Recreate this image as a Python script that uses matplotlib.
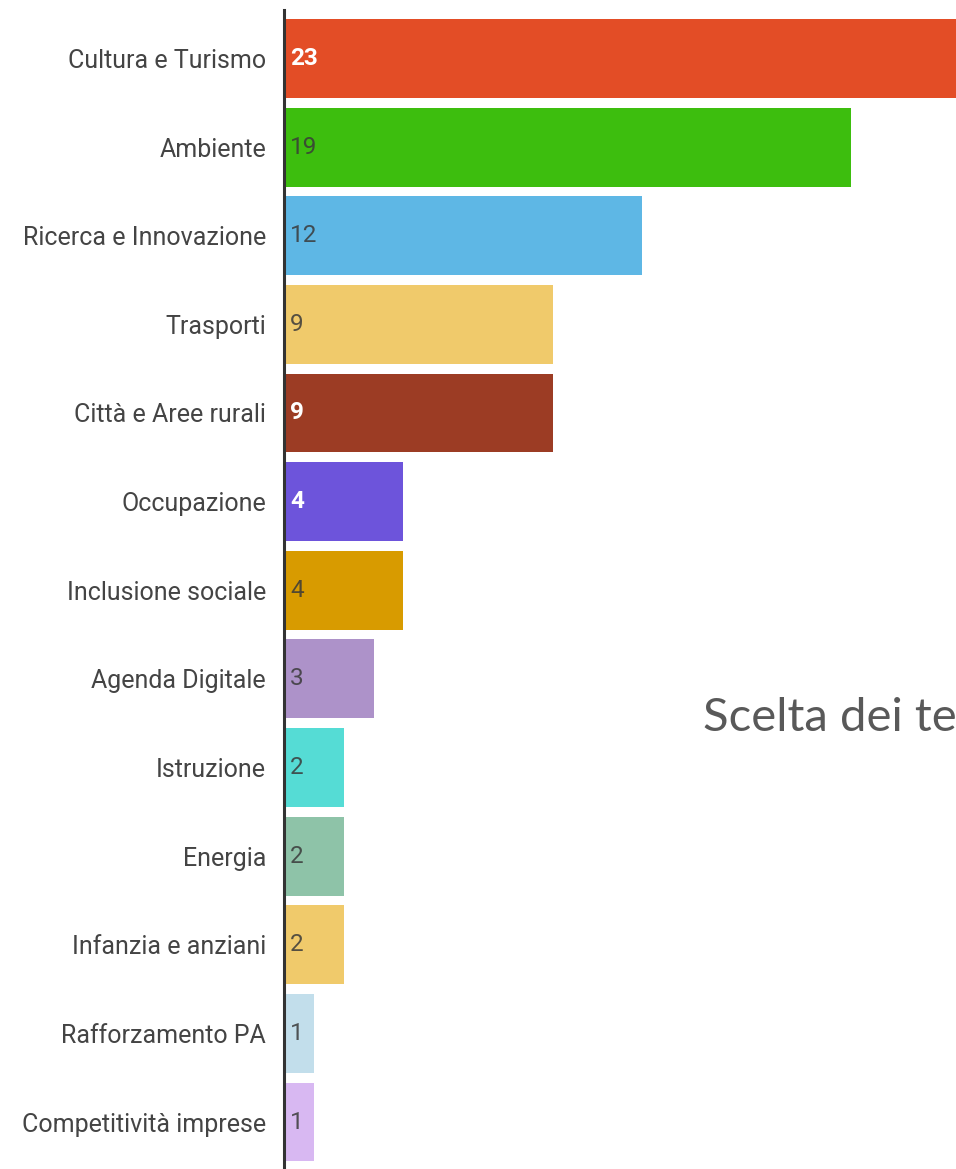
import matplotlib
matplotlib.use("Agg")
from matplotlib import pyplot as plt

# data
categories = ["Cultura e Turismo", "Ambiente", "Ricerca e Innovazione", "Trasporti",
              "Città e Aree rurali", "Occupazione", "Inclusione sociale", "Agenda Digitale",
              "Istruzione", "Energia", "Infanzia e anziani", "Rafforzamento PA",
              "Competitività imprese"]
values = [23, 19, 12, 9, 9, 4, 4, 3, 2, 2, 2, 1, 1]
colors = ["#E34D26", "#3DBE0E", "#5EB7E5", "#F0CA6B", "#9C3C24", "#6D54DB", "#D89B00",
          "#AD92C9", "#55DCD5", "#8EC3A8", "#F0CA6B", "#C2DEEB", "#D8B8F2"]
white_labels = [True, False, False, False, True, True, False, False, False, False, False,
                False, False]

W, H = 956, 1169
fig = plt.figure(figsize=(W / 100, H / 100), dpi=100)
ax = fig.add_axes([284 / W, 0, 1 - 284 / W, 1 - 10 / H])

ypos = list(range(len(categories)))
ax.barh(ypos, values, height=0.89, color=colors, zorder=2)

for y, v, w in zip(ypos, values, white_labels):
    if w:
        ax.text(0.2, y, str(v), va="center", ha="left", fontsize=17.5, fontweight="bold",
                color="white", family="Roboto", zorder=3)
    else:
        ax.text(0.2, y, str(v), va="center", ha="left", fontsize=17.5,
                color="#3a3a3a", alpha=0.85, family="Roboto", zorder=3)

ax.set_xlim(0, (W - 284) / 29.84)
ax.set_ylim(12.53, -0.547)
ax.set_yticks(ypos)
ax.set_yticklabels(categories, fontsize=18, color="#444444", family="Roboto")
ax.tick_params(axis="y", length=0, pad=13)
ax.set_xticks([])
for side in ["top", "right", "bottom"]:
    ax.spines[side].set_visible(False)
ax.spines["left"].set_color("#333333")
ax.spines["left"].set_linewidth(2.2)
ax.spines["left"].set_zorder(4)

# slide title, only partly visible in the original screenshot
fig.text(703 / W, 1 - 718 / H, "Scelta dei te", fontsize=34, color="#595959",
         family="Lato", va="center", ha="left")

fig.savefig("out.png", dpi=100)
